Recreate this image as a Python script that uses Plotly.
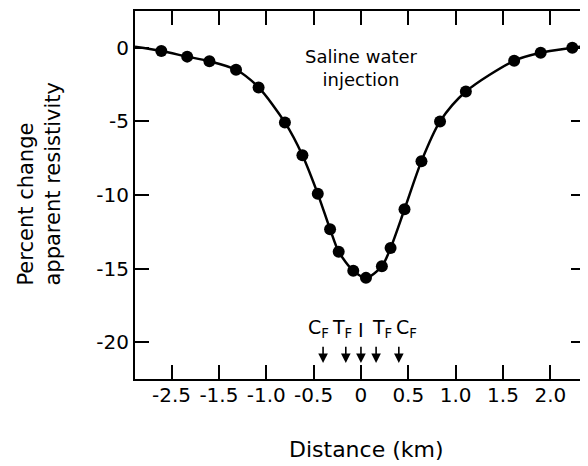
import plotly.graph_objects as go

# ---- data ----
dist_km = [-2.108, -1.835, -1.60, -1.319, -1.081, -0.803, -0.618, -0.456, -0.326,
           -0.235, -0.081, 0.053, 0.221, 0.313, 0.460, 0.639, 0.835, 1.108,
           1.618, 1.898, 2.232]
pct_change = [-0.22, -0.60, -0.91, -1.49, -2.69, -5.07, -7.30, -9.92, -12.32,
              -13.85, -15.14, -15.63, -14.84, -13.60, -10.97, -7.70, -5.00, -2.97,
              -0.88, -0.34, 0.00]
# fitted curve continues to the frame edges
curve_left = (-2.386, 0.07)
curve_right = (2.366, 0.13)

x_tickvals = [-2.0, -1.5, -1.0, -0.5, 0, 0.5, 1.0, 1.5, 2.0]
x_ticktext = ["-2.5", "-1.5", "-1.0", "-0.5", "0", "0.5", "1.0", "1.5", "2.0"]
y_tickvals = [0, -5, -10, -15, -20]
y_ticktext = ["0", "-5", "-10", "-15", "-20"]

marker_x = [-0.40, -0.16, 0.0, 0.16, 0.40]
marker_labels = ["C<sub>F</sub>", "T<sub>F</sub>", "I", "T<sub>F</sub>", "C<sub>F</sub>"]
label_shift = [-5, -4, 0, 6, 8]

FONT = "DejaVu Sans"

fig = go.Figure()
fig.add_trace(go.Scatter(
    x=[curve_left[0]] + dist_km + [curve_right[0]],
    y=[curve_left[1]] + pct_change + [curve_right[1]],
    mode="lines", line=dict(color="black", width=2.5, shape="spline", smoothing=0.8),
    hoverinfo="skip", showlegend=False))
fig.add_trace(go.Scatter(
    x=dist_km, y=pct_change, mode="markers",
    marker=dict(color="black", size=12), showlegend=False))

ann = []
for xv, lab, sh in zip(marker_x, marker_labels, label_shift):
    ann.append(dict(x=xv, y=-21.42, ax=xv, ay=-20.2, xref="x", yref="y",
                    axref="x", ayref="y", text="", showarrow=True,
                    arrowhead=2, arrowsize=1.2, arrowwidth=1.6, arrowcolor="black",
                    standoff=0, startstandoff=0))
    ann.append(dict(x=xv, y=-20.05, xref="x", yref="y", text=lab, showarrow=False,
                    xanchor="center", yanchor="bottom", xshift=sh,
                    font=dict(family=FONT, size=19, color="black")))

ann.append(dict(x=0.01, y=-1.35, xref="x", yref="y",
                text="Saline water<br>injection", showarrow=False,
                xanchor="center", yanchor="middle",
                font=dict(family=FONT, size=18, color="black")))
ann.append(dict(x=0.515, y=-0.192, xref="paper", yref="paper",
                text="Distance (km)", showarrow=False,
                xanchor="center", yanchor="middle",
                font=dict(family=FONT, size=22, color="black")))
ann.append(dict(x=-0.212, y=0.53, xref="paper", yref="paper",
                text="Percent change<br>apparent resistivity", showarrow=False,
                textangle=-90, align="left", xanchor="center", yanchor="middle",
                font=dict(family=FONT, size=21, color="black")))

fig.update_layout(
    width=580, height=458,
    margin=dict(l=127, r=1, t=1, b=87),
    paper_bgcolor="white", plot_bgcolor="white",
    annotations=ann,
    font=dict(family=FONT, color="black"),
)
fig.update_xaxes(range=[-2.386, 2.366], tickvals=x_tickvals, ticktext=x_ticktext,
                 ticks="inside", ticklen=14, tickwidth=1.5, tickcolor="black",
                 showline=True, linecolor="black", linewidth=2, mirror="ticks",
                 showgrid=False, zeroline=False, ticklabelstandoff=-3,
                 tickfont=dict(family=FONT, size=20, color="black"))
fig.update_yaxes(range=[-22.5, 2.5], tickvals=y_tickvals, ticktext=y_ticktext,
                 ticks="inside", ticklen=14, tickwidth=1.5, tickcolor="black",
                 showline=True, linecolor="black", linewidth=2, mirror="ticks",
                 showgrid=False, zeroline=False,
                 tickfont=dict(family=FONT, size=20, color="black"))

fig.write_html("out.html")
